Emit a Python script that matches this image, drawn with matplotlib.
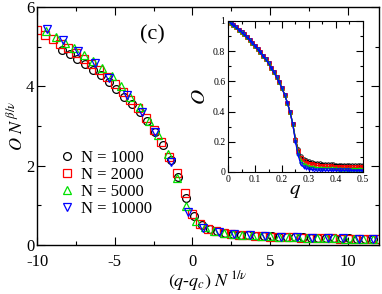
import matplotlib
matplotlib.use("Agg")
import matplotlib.pyplot as plt
from matplotlib.ticker import MultipleLocator, FuncFormatter

plt.rcParams['font.family'] = ['Liberation Serif', 'DejaVu Serif']
plt.rcParams['mathtext.fontset'] = 'stix'

# ---- main panel data (scaling collapse) ----
labels = ["N = 1000", "N = 2000", "N = 5000", "N = 10000"]
colors = ["black", "#ff0000", "#00e000", "#0000ff"]
markers = ["o", "s", "^", "v"]

x_1000 = [-8.4, -7.9, -7.4, -6.9, -6.4, -5.9, -5.4, -4.9, -4.4, -3.9, -3.4, -2.9, -2.4, -1.9,
          -1.4, -0.9, -0.4, 0.1, 0.6, 1.1, 1.6, 2.1, 2.6, 3.1, 3.6, 4.1, 4.6, 5.1, 5.6, 6.1,
          6.6, 7.1, 7.6, 8.1, 8.6, 9.1, 9.6, 10.1, 10.6, 11.1, 11.6]
y_1000 = [4.92, 4.81, 4.69, 4.56, 4.42, 4.28, 4.11, 3.93, 3.74, 3.55, 3.35, 3.12, 2.85, 2.53,
          2.15, 1.72, 1.18, 0.72, 0.50, 0.40, 0.34, 0.31, 0.28, 0.26, 0.245, 0.235, 0.225, 0.215,
          0.21, 0.20, 0.195, 0.19, 0.185, 0.18, 0.175, 0.17, 0.165, 0.165, 0.16, 0.16, 0.155]

x_2000 = [-10.0, -9.5, -9.0, -8.5, -8.0, -7.5, -7.0, -6.5, -6.0, -5.5, -5.0, -4.5, -4.0, -3.5,
          -3.0, -2.5, -2.0, -1.5, -1.0, -0.5, 0.0, 0.5, 1.0, 1.5, 2.0, 2.5, 3.0, 3.5, 4.0, 4.5,
          5.0, 5.5, 6.0, 6.5, 7.0, 7.5, 8.0, 8.5, 9.0, 9.5, 10.0, 10.5, 11.0, 11.5, 12.0]
y_2000 = [5.42, 5.30, 5.20, 5.08, 4.96, 4.84, 4.70, 4.57, 4.42, 4.24, 4.05, 3.86, 3.66, 3.45,
          3.20, 2.90, 2.60, 2.22, 1.82, 1.30, 0.78, 0.52, 0.40, 0.34, 0.30, 0.28, 0.26, 0.24,
          0.23, 0.22, 0.21, 0.205, 0.20, 0.19, 0.185, 0.18, 0.175, 0.17, 0.165, 0.16, 0.16,
          0.155, 0.15, 0.15, 0.145]

x_5000 = [-9.4, -8.8, -8.2, -7.6, -7.0, -6.4, -5.8, -5.2, -4.6, -4.0, -3.4, -2.8, -2.2, -1.6,
          -1.0, -0.4, 0.2, 0.8, 1.4, 2.0, 2.6, 3.2, 3.8, 4.4, 5.0, 5.6, 6.2, 6.8, 7.4, 8.0,
          8.6, 9.2, 9.8, 10.4, 11.0, 11.6]
y_5000 = [5.40, 5.25, 5.10, 4.96, 4.80, 4.64, 4.46, 4.25, 4.00, 3.74, 3.47, 3.12, 2.76, 2.30,
          1.70, 0.98, 0.60, 0.44, 0.36, 0.31, 0.28, 0.255, 0.24, 0.225, 0.215, 0.205, 0.20,
          0.19, 0.185, 0.175, 0.17, 0.165, 0.16, 0.155, 0.15, 0.15]

x_10000 = [-9.35, -8.3, -7.35, -6.3, -5.4, -4.2, -3.25, -2.4, -1.35, -0.3, 0.7, 1.7, 2.7, 3.7,
           4.7, 5.7, 6.7, 7.7, 8.7, 9.7, 10.7, 11.6]
y_10000 = [5.44, 5.16, 4.88, 4.58, 4.22, 3.78, 3.36, 2.86, 2.09, 0.82, 0.42, 0.33, 0.28, 0.245,
           0.225, 0.21, 0.195, 0.185, 0.175, 0.165, 0.16, 0.15]

# ---- inset data: O vs q ----
q_vals = [0.00, 0.01, 0.02, 0.03, 0.04, 0.05, 0.06, 0.07, 0.08, 0.09, 0.10, 0.11, 0.12, 0.13,
          0.14, 0.15, 0.16, 0.17, 0.18, 0.19, 0.20, 0.21, 0.22, 0.23, 0.24, 0.25, 0.26, 0.27,
          0.28, 0.29, 0.30, 0.31, 0.32, 0.33, 0.34, 0.35, 0.36, 0.37, 0.38, 0.39, 0.40, 0.41,
          0.42, 0.43, 0.44, 0.45, 0.46, 0.47, 0.48, 0.49, 0.50]
O_ordered = [1.000, 0.986, 0.972, 0.957, 0.942, 0.926, 0.910, 0.893, 0.875, 0.856, 0.836, 0.815,
             0.793, 0.770, 0.745, 0.719, 0.691, 0.661, 0.628, 0.593, 0.554, 0.510, 0.458, 0.395,
             0.318]
O_tail_1000 = [0.22, 0.15, 0.105, 0.088, 0.078, 0.071, 0.066, 0.062, 0.059, 0.057, 0.055, 0.053,
               0.052, 0.051, 0.050, 0.049, 0.048, 0.047, 0.047, 0.046, 0.046, 0.045, 0.045,
               0.044, 0.044, 0.044]
O_tail_2000 = [0.21, 0.14, 0.09, 0.072, 0.062, 0.055, 0.050, 0.047, 0.044, 0.042, 0.040, 0.039,
               0.038, 0.037, 0.036, 0.035, 0.035, 0.034, 0.034, 0.033, 0.033, 0.033, 0.032,
               0.032, 0.032, 0.032]
O_tail_5000 = [0.21, 0.125, 0.07, 0.053, 0.044, 0.038, 0.034, 0.031, 0.029, 0.028, 0.027, 0.026,
               0.025, 0.025, 0.024, 0.024, 0.023, 0.023, 0.023, 0.022, 0.022, 0.022, 0.022,
               0.021, 0.021, 0.021]
O_tail_10000 = [0.20, 0.11, 0.05, 0.033, 0.025, 0.020, 0.017, 0.015, 0.014, 0.013, 0.012, 0.012,
                0.011, 0.011, 0.011, 0.010, 0.010, 0.010, 0.010, 0.010, 0.010, 0.009, 0.009,
                0.009, 0.009, 0.009]

main_x = [x_1000, x_2000, x_5000, x_10000]
main_y = [y_1000, y_2000, y_5000, y_10000]
inset_O = [O_ordered + O_tail_1000, O_ordered + O_tail_2000,
           O_ordered + O_tail_5000, O_ordered + O_tail_10000]

fig = plt.figure(figsize=(3.82, 2.94), dpi=100)
ax = fig.add_axes([0.097, 0.167, 0.895, 0.809])

for xs, ys, c, m, lab in zip(main_x, main_y, colors, markers, labels):
    ax.plot(xs, ys, linestyle='none', marker=m, markersize=5.6, markerfacecolor='none',
            markeredgecolor=c, markeredgewidth=0.9, label=lab)

ax.set_xlim(-10, 12)
ax.set_ylim(0, 6)
ax.xaxis.set_major_locator(MultipleLocator(5))
ax.xaxis.set_minor_locator(MultipleLocator(2.5))
ax.yaxis.set_major_locator(MultipleLocator(2))
ax.yaxis.set_minor_locator(MultipleLocator(1))
ax.tick_params(which='both', direction='in', top=True, right=True, labelsize=12)
ax.tick_params(axis='x', pad=6.5)
ax.tick_params(axis='y', pad=2)
ax.tick_params(which='major', length=6, width=0.8)
ax.tick_params(which='minor', length=3, width=0.8)
for sp in ax.spines.values():
    sp.set_linewidth(1.0)
ax.xaxis.set_major_formatter(FuncFormatter(lambda v, p: f"{v:g}"))

ax.set_xlabel(r"$(q$-$q_c)\ N^{\,1/\nu}$", fontsize=13, labelpad=-1)
ax.set_ylabel(r"$O\ N^{\,\beta/\nu}$", fontsize=13, labelpad=0)
ax.text(-2.6, 5.3, "(c)", fontsize=16, ha='center', va='center')

ax.legend(loc='lower left', bbox_to_anchor=(0.04, 0.09), frameon=False, fontsize=12,
          handletextpad=0.2, labelspacing=0.05, handlelength=1.2, borderaxespad=0)

# ---- inset ----
ins = fig.add_axes([0.597, 0.415, 0.353, 0.514])
for Os, c, m in zip(inset_O, colors, markers):
    ins.plot(q_vals, Os, color=c, marker=m, markersize=2.5, linewidth=0.9,
             markerfacecolor='none', markeredgewidth=0.6)
ins.set_xlim(0, 0.5)
ins.set_ylim(0, 1)
ins.xaxis.set_major_locator(MultipleLocator(0.1))
ins.xaxis.set_minor_locator(MultipleLocator(0.05))
ins.yaxis.set_major_locator(MultipleLocator(0.2))
ins.yaxis.set_minor_locator(MultipleLocator(0.1))
ins.tick_params(which='both', direction='in', top=True, right=True, labelsize=7, pad=2)
ins.tick_params(which='major', length=5, width=0.8)
ins.tick_params(which='minor', length=2.5, width=0.8)
ins.set_xlabel(r"$q$", fontsize=15, labelpad=-2)
ins.set_ylabel(r"$O$", fontsize=15, labelpad=2)
ins.xaxis.set_major_formatter(FuncFormatter(lambda v, p: '0' if abs(v) < 1e-9 else f"{v:.1f}"))
ins.yaxis.set_major_formatter(FuncFormatter(
    lambda v, p: '0' if abs(v) < 1e-9 else ('1' if abs(v - 1) < 1e-9 else f"{v:.1f}")))

fig.savefig("out.png", dpi=100)
